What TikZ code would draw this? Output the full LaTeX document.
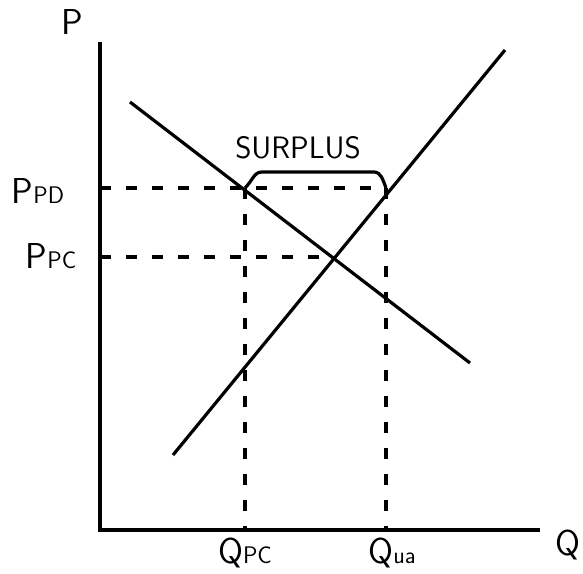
\documentclass[tikz,border=0pt]{standalone}
\usepackage{tikz}
\usetikzlibrary{positioning}

\begin{document}
\begin{tikzpicture}[
  x=1pt, y=-1pt,
  axis/.style={line width=4.4pt},
  curve/.style={line width=3.2pt},
  guide/.style={line width=3.4pt, dash pattern=on 11pt off 15pt},
  lbl/.style={font=\sffamily\fontsize{36}{38}\selectfont, inner sep=0pt}
]
\useasboundingbox (0,0) rectangle (583,573);

% points of the graph
\coordinate (o) at (100,530);
\coordinate (ytop) at (100,42);
\coordinate (xend) at (540,530);
\coordinate (d1) at (130,102);
\coordinate (d2) at (470,363);
\coordinate (s1) at (173,455);
\coordinate (s2) at (505,50);
\coordinate (ppd) at (100,188);
\coordinate (ppc) at (100,257);
\coordinate (eq) at (334,257);
\coordinate (a) at (245,188);
\coordinate (b) at (386,188);
\coordinate (qpc) at (245,530);
\coordinate (qua) at (386,530);

% axes
\draw[axis] (ytop) -- (o) -- (xend);
\node[lbl] (plabel) at (72,22) {P};
\node[lbl] (qlabel) at (568,545) {Q};

% demand and supply
\draw[curve] (d1) -- (d2);
\draw[curve] (s1) -- (s2);

% price floor and equilibrium
\draw[guide] (ppd) -- (b);
\draw[guide] (ppc) -- (eq);
\draw[guide] (a) -- (qpc);
\draw[guide] (b) -- (qua);

\node[lbl] (ppdlabel) at (38,191) {P{\fontsize{24}{26}\selectfont PD}};
\node[lbl] (ppclabel) at (51,256) {P{\fontsize{24}{26}\selectfont PC}};
\node[lbl] (qpclabel) at (245,553) {Q{\fontsize{24}{26}\selectfont PC}};
\node[lbl] (qualabel) at (392,553) {Q{\fontsize{24}{26}\selectfont ua}};

% surplus
\draw[curve] (a) .. controls (253,180) and (254,172) .. (262,172) -- (374,172)
  .. controls (381,172) and (383,180) .. (b);
\node[lbl, font=\sffamily\fontsize{31}{33}\selectfont] (surplus) at (298,148) {SURPLUS};
\end{tikzpicture}
\end{document}
